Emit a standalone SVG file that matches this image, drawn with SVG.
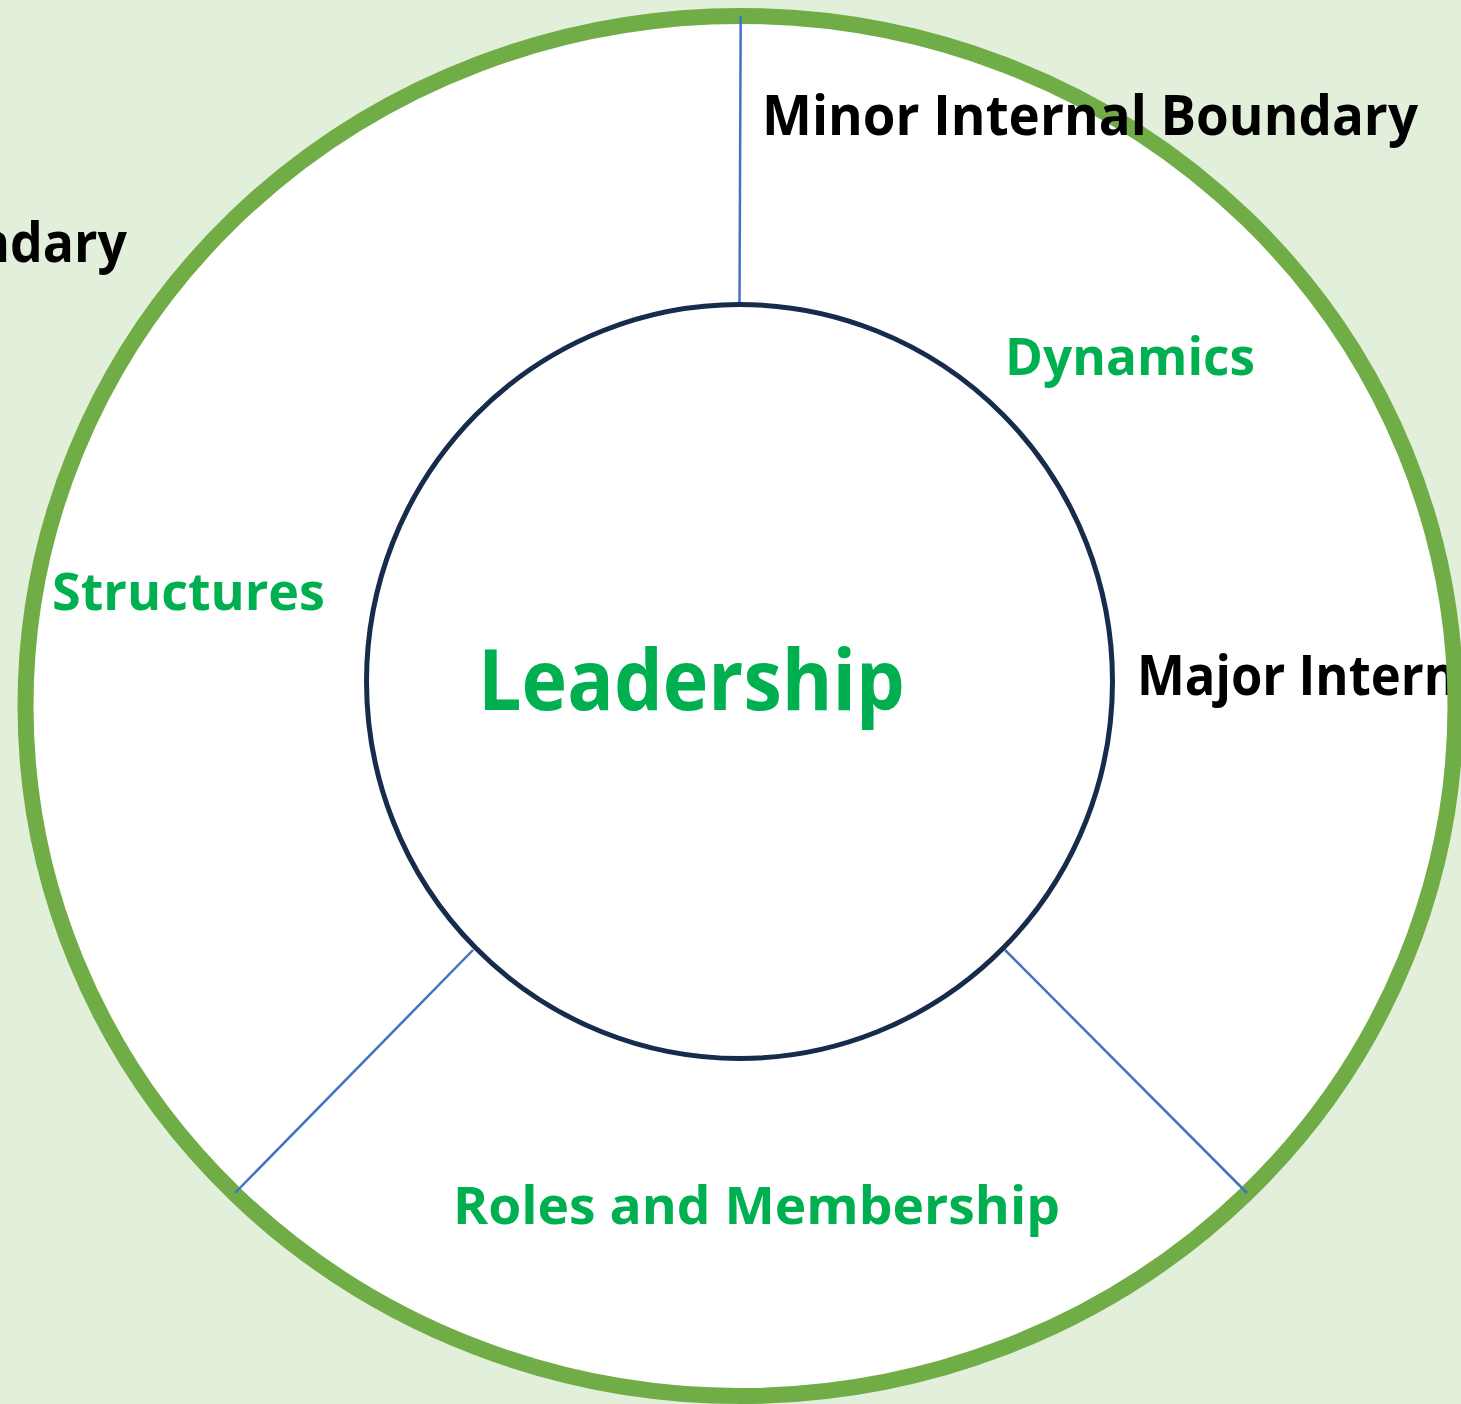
<svg xmlns="http://www.w3.org/2000/svg" width="1461" height="1404" viewBox="0 0 1461 1404">
<style>
.lbl{font-family:"Open Sans","Noto Sans","Liberation Sans",sans-serif;font-weight:bold;}
.blk{fill:#000000;font-size:55px;}
.grn{fill:#00B050;font-size:52px;}
.conn{stroke:#4472C4;stroke-width:2.5;fill:none;}
</style>
<rect x="0" y="0" width="1461" height="1404" fill="#E2EFDA"/>
<g id="outer-fill">
<ellipse cx="740.5" cy="706" rx="715" ry="690" fill="#FFFFFF"/>
</g>
<g id="label-major">
<text class="lbl blk" x="1137" y="695" textLength="320" lengthAdjust="spacingAndGlyphs">Major Intern</text>
</g>
<g id="outer-ring">
<ellipse cx="740.5" cy="706" rx="715" ry="690" fill="none" stroke="#70AD47" stroke-width="16"/>
</g>
<g id="connectors">
<line class="conn" x1="740.7" y1="16" x2="739.5" y2="303"/>
<line class="conn" x1="473" y1="950" x2="235" y2="1193"/>
<line class="conn" x1="1005" y1="950" x2="1247" y2="1193"/>
</g>
<g id="leadership">
<ellipse cx="739.5" cy="681.5" rx="373" ry="377" fill="none" stroke="#172B4D" stroke-width="5"/>
<text class="lbl grn" x="478" y="710" font-size="84" style="font-size:84px" textLength="427" lengthAdjust="spacingAndGlyphs">Leadership</text>
</g>
<g id="label-minor">
<text class="lbl blk" x="762" y="135" textLength="656" lengthAdjust="spacingAndGlyphs">Minor Internal Boundary</text>
</g>
<g id="label-external">
<text class="lbl blk" x="-24" y="262" textLength="151" lengthAdjust="spacingAndGlyphs">ndary</text>
</g>
<g id="dynamics">
<text class="lbl grn" x="1005" y="375" textLength="250" lengthAdjust="spacingAndGlyphs">Dynamics</text>
</g>
<g id="structures">
<text class="lbl grn" x="52" y="610" textLength="273" lengthAdjust="spacingAndGlyphs">Structures</text>
</g>
<g id="roles">
<text class="lbl grn" x="453" y="1224" textLength="607" lengthAdjust="spacingAndGlyphs">Roles and Membership</text>
</g>
</svg>
